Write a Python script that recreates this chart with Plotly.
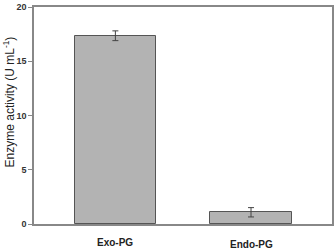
import plotly.graph_objects as go

categories = ["Exo-PG", "Endo-PG"]
values = [17.35, 1.08]
errors = [0.45, 0.43]
y_ticks = [0, 5, 10, 15, 20]
y_title = "Enzyme activity (U mL<sup>-1</sup>)"
label_y_offsets = [0, -2]  # Endo-PG label sits slightly lower

xpos = list(range(len(categories)))

fig = go.Figure()
fig.add_trace(go.Bar(
    x=xpos, y=values, width=0.6,
    marker=dict(color="#b3b3b3", line=dict(color="#555555", width=1)),
    error_y=dict(type="data", array=errors, visible=True, color="#444444", thickness=1, width=3),
    showlegend=False,
))

for xp, cat, off in zip(xpos, categories, label_y_offsets):
    fig.add_annotation(x=xp, y=0, xref="x", yref="y", text="<b>%s</b>" % cat,
                       showarrow=False, yanchor="top", yshift=-11 + off,
                       font=dict(family="Liberation Sans, Arial", size=10, color="#222222"))

# y-axis title (sits a little above the axis centre, as in the reference)
fig.add_annotation(x=0, y=0.56, xref="paper", yref="paper", xshift=-25,
                   text=y_title, textangle=-90, showarrow=False,
                   xanchor="center", yanchor="middle",
                   font=dict(family="Liberation Sans, Arial", size=12, color="#222222"))

fig.update_layout(
    width=336, height=250,
    margin=dict(l=34, r=2, t=7, b=26),
    paper_bgcolor="white", plot_bgcolor="white",
    font=dict(family="Liberation Sans, Arial", color="#222222"),
    bargap=0,
)
fig.update_xaxes(range=[-0.6, 1.597], showticklabels=False, ticks="",
                 showline=True, linecolor="#888888", linewidth=1.5, mirror=True,
                 showgrid=False, zeroline=False)
fig.update_yaxes(range=[0, 20], tickvals=y_ticks, ticktext=["<b>%d</b>" % t for t in y_ticks],
                 ticks="outside", ticklen=4, tickcolor="#888888", tickwidth=1,
                 tickfont=dict(size=9, color="#333333"),
                 showline=True, linecolor="#888888", linewidth=1.5, mirror=True,
                 showgrid=False, zeroline=False)

fig.write_html("out.html")
